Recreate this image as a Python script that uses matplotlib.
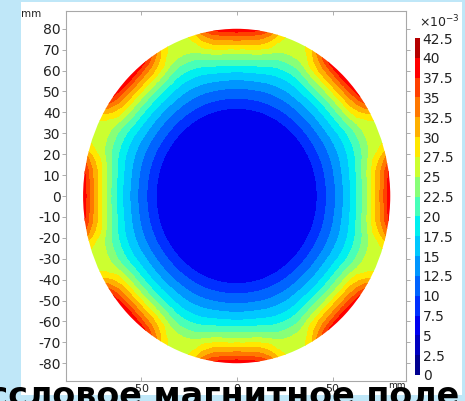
import numpy as np
import matplotlib
matplotlib.use("Agg")
import matplotlib.pyplot as plt
from matplotlib.colors import ListedColormap, BoundaryNorm
from matplotlib.patches import Circle, Rectangle

# ---- data ----
levels = [0, 2.5, 5, 7.5, 10, 12.5, 15, 17.5, 20, 22.5, 25, 27.5, 30, 32.5, 35, 37.5, 40, 42.5]
cbar_labels = ["0", "2.5", "5", "7.5", "10", "12.5", "15", "17.5", "20", "22.5", "25",
               "27.5", "30", "32.5", "35", "37.5", "40", "42.5"]
band_colors = ["#000090", "#0000c0", "#0000f0", "#0030ff", "#0064ff", "#0096ff", "#00c8ff",
               "#00f0f0", "#48ffb8", "#88ff78", "#ccff30", "#ffe800", "#ffb000", "#ff7800",
               "#ff4000", "#ff0000", "#b40000"]
# radial profile of the field between hot spots (radius in mm -> value x1e-3)
profile_r = [0, 40, 42, 47, 52, 56.5, 61, 65, 69, 73, 77, 80]
profile_v = [6.0, 6.6, 7.5, 10, 12.5, 15, 17.5, 20, 22.5, 25, 26.0, 26.5]
# hot spot on the rim: angular offset from its centre (deg) -> share of its peak
hotspot_dtheta = [0, 5, 9, 13, 16, 19, 22.5]
hotspot_share = [1.0, 0.93, 0.8, 0.5, 0.2, 0.04, 0.0]
hotspot_amp = 13.5          # extra value at a hot spot centre on the rim
hotspot_count = 8           # hot spots around the rim
hotspot_decay = 9           # radial power of the hot-spot term
radius = 80.0
yticks = list(range(-80, 81, 10))
xticks = [-50, 0, 50]
title_text = "ассловое магнитное поле"

# ---- field ----
g = np.linspace(-radius - 2, radius + 2, 800)
X, Y = np.meshgrid(g, g)
R = np.hypot(X, Y)
T = np.degrees(np.arctan2(Y, X))
step = 360.0 / hotspot_count
dth = np.abs((T + step / 2) % step - step / 2)
base = np.interp(R, profile_r, profile_v, right=profile_v[-1])
share = np.interp(dth, hotspot_dtheta, hotspot_share)
V = base + hotspot_amp * (np.minimum(R, radius) / radius) ** hotspot_decay * share

# ---- figure ----
W, H = 465, 401
fig = plt.figure(figsize=(W / 100, H / 100), dpi=100)
fig.patch.set_facecolor("#bfe7f8")
bg = Rectangle((21 / W, 1 - 395 / H), (462 - 21) / W, (395 - 2) / H,
               transform=fig.transFigure, facecolor="white", edgecolor="none", zorder=-10)
fig.patches.append(bg)

ax = fig.add_axes([66 / W, 1 - 381 / H, (406 - 66) / W, (381 - 11) / H])
ax.set_facecolor("white")
cmap = ListedColormap(band_colors)
norm = BoundaryNorm(levels, cmap.N)
cf = ax.contourf(X, Y, V, levels=levels, cmap=cmap, norm=norm)
clip = Circle((0, 0), radius, transform=ax.transData)
cf.set_clip_path(clip)

ax.set_xlim(-88.9, 88.2)
ax.set_ylim(-88.5, 88.5)
ax.set_yticks(yticks)
ax.set_yticklabels([str(t) for t in yticks])
ax.set_xticks(xticks)
ax.set_xticklabels([str(t) for t in xticks])
for s in ax.spines.values():
    s.set_color("#a8a8a8")
    s.set_linewidth(0.8)
ax.tick_params(axis="y", direction="out", length=3, width=0.6, color="#a0a0a0",
               labelsize=10, labelcolor="#222222", pad=1, right=True)
ax.tick_params(axis="x", direction="in", length=3, width=0.6, color="#a0a0a0",
               labelsize=8, labelcolor="#222222", pad=2, top=True)
fig.text(21 / W, 1 - 14 / H, "mm", fontsize=7.5, color="#222222", va="center", ha="left")
fig.text(388 / W, 1 - 386 / H, "mm", fontsize=6.5, color="#222222", va="center", ha="left")

# ---- colorbar ----
cax = fig.add_axes([415 / W, 1 - 375 / H, 5 / W, (375 - 38) / H])
cb = fig.colorbar(cf, cax=cax, ticks=levels)
cb.outline.set_visible(False)
cb.ax.set_yticklabels(cbar_labels)
cb.ax.tick_params(length=0, labelsize=10, labelcolor="#222222", pad=2)
fig.text(419 / W, 1 - 22 / H, r"×10$^{-3}$", fontsize=9, color="#222222", va="center", ha="left")

# ---- overlapping slide title (cut by the bottom edge) ----
fig.text(459 / W, (401 - 405.5) / H, title_text, fontsize=24, fontweight="bold",
         color="black", ha="right", va="baseline", zorder=10)

fig.savefig("out.png", dpi=100, facecolor=fig.get_facecolor())
